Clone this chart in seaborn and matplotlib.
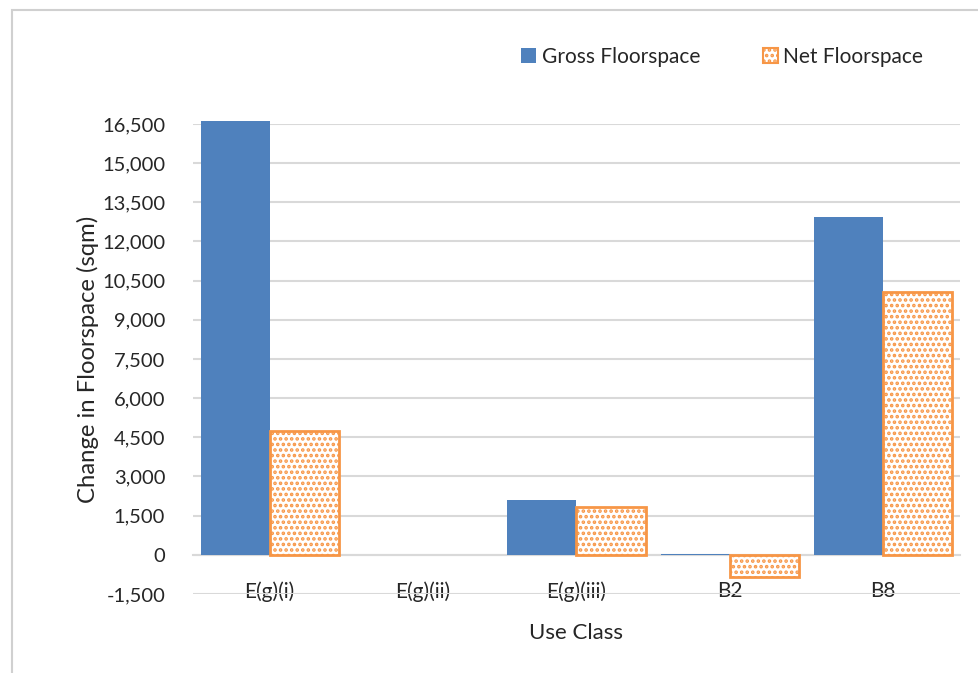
import matplotlib
matplotlib.use("Agg")
import matplotlib.pyplot as plt
from matplotlib.patches import Patch, Rectangle
from matplotlib.ticker import FuncFormatter, MultipleLocator
import seaborn as sns
import pandas as pd

# Floorspace change by use class (sqm)
categories = ["E(g)(i)", "E(g)(ii)", "E(g)(iii)", "B2", "B8"]
gross_floorspace = [16600, 0, 2100, 50, 12950]
net_floorspace = [4750, 0, 1850, -850, 10050]
series_names = ["Gross Floorspace", "Net Floorspace"]

BLUE = "#4F81BD"
ORANGE = "#F79646"
GRID = "#D9D9D9"
TEXT = "#262626"

df = pd.DataFrame({
    "Use Class": categories * 2,
    "Change": gross_floorspace + net_floorspace,
    "Series": [series_names[0]] * len(categories) + [series_names[1]] * len(categories),
})

sns.set_theme(style="white")
plt.rcParams["font.family"] = ["Lato", "DejaVu Sans"]
plt.rcParams["hatch.linewidth"] = 1.75

fig = plt.figure(figsize=(9.79, 6.73), dpi=100)
ax = fig.add_axes([193 / 979, 1 - 594 / 673, (960 - 193) / 979, (594 - 124) / 673])

sns.barplot(data=df, x="Use Class", y="Change", hue="Series", order=categories,
            hue_order=series_names, palette=[BLUE, ORANGE], width=0.9,
            errorbar=None, legend=False, ax=ax, zorder=3)

gross_bars, net_bars = ax.containers[0], ax.containers[1]
for p in gross_bars.patches:
    p.set_facecolor(BLUE)
    p.set_edgecolor("none")
    p.set_clip_on(False)
for p in net_bars.patches:
    p.set_facecolor("white")
    p.set_edgecolor(ORANGE)
    p.set_linewidth(2 if p.get_height() != 0 else 0)
    p.set_hatch("...")
    p.set_clip_on(False)

ax.set_ylim(-1500, 16500)
ax.set_xlim(-0.5, len(categories) - 0.5)
ax.yaxis.set_major_locator(MultipleLocator(1500))
ax.yaxis.set_major_formatter(FuncFormatter(lambda v, _: f"{int(v):,}"))
ax.grid(axis="y", color=GRID, linewidth=1.5, zorder=0)
ax.set_axisbelow(True)

for side in ["top", "right", "left"]:
    ax.spines[side].set_visible(False)
ax.spines["bottom"].set_position(("data", 0))
ax.spines["bottom"].set_color(GRID)
ax.spines["bottom"].set_linewidth(1.5)
ax.spines["bottom"].set_zorder(2)

ax.tick_params(axis="y", length=0, pad=20, labelsize=14.5, labelcolor=TEXT)
ax.tick_params(axis="x", length=0, pad=19, labelsize=15, labelcolor=TEXT)

ax.set_xlabel("Use Class", fontsize=16, color=TEXT)
ax.xaxis.set_label_coords(0.5, -0.062)
ax.set_ylabel("Change in Floorspace (sqm)", fontsize=17.2, color=TEXT)
ax.yaxis.set_label_coords(-0.122, 0.5)

handles = [
    Patch(facecolor=BLUE, edgecolor="none", label=series_names[0]),
    Patch(facecolor="white", edgecolor=ORANGE, hatch="...", linewidth=1.5, label=series_names[1]),
]
leg = fig.legend(handles=handles, loc="center", bbox_to_anchor=(722 / 979, 1 - 57 / 673),
                 ncol=2, frameon=False, fontsize=15, handlelength=0.75, handleheight=0.75,
                 handletextpad=0.25, columnspacing=3.0)
for t in leg.get_texts():
    t.set_color(TEXT)

# chart area border
fig.patches.append(Rectangle((12 / 979, -0.05), 1.2, 1 - 10 / 673 + 0.05,
                             transform=fig.transFigure, fill=False,
                             edgecolor="#D0D0D0", linewidth=1.5))

fig.savefig("out.png", dpi=100)
